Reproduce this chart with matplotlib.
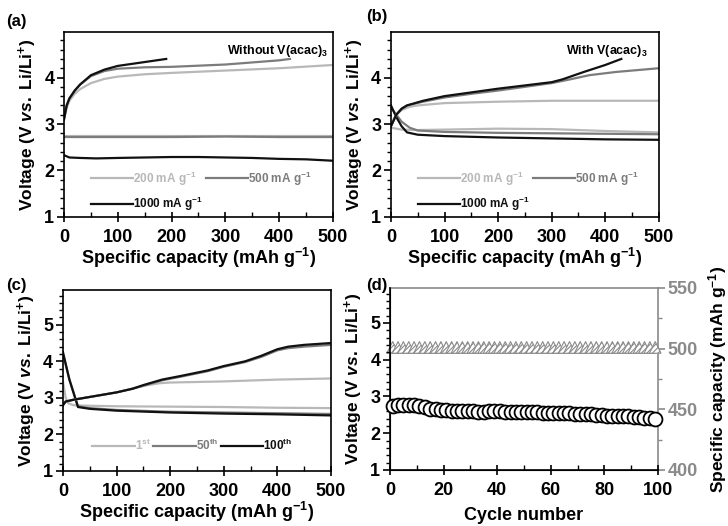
import numpy as np
import matplotlib
matplotlib.use("Agg")
import matplotlib.pyplot as plt
from matplotlib.ticker import MultipleLocator

plt.rcParams['font.family'] = ['Liberation Sans', 'DejaVu Sans']
plt.rcParams['font.weight'] = 'bold'
plt.rcParams['mathtext.fontset'] = 'custom'
plt.rcParams['mathtext.rm'] = 'Liberation Sans:bold'
plt.rcParams['mathtext.bf'] = 'Liberation Sans:bold'
plt.rcParams['mathtext.it'] = 'Liberation Sans:bold:italic'
plt.rcParams['mathtext.default'] = 'rm'
plt.rcParams['hatch.color'] = '#8a8a8a'
plt.rcParams['hatch.linewidth'] = 0.8

C_LIGHT = '#b8b8b8'
C_MID = '#7c7c7c'
C_DARK = '#111111'

# ---------- Panel (a): without V(acac)3 ----------
a_200_chg_x = [0, 5, 10, 20, 30, 50, 75, 100, 150, 200, 300, 400, 500]
a_200_chg_y = [3.1, 3.35, 3.5, 3.65, 3.75, 3.88, 3.97, 4.02, 4.07, 4.1, 4.15, 4.2, 4.27]
a_200_dis_x = [0, 100, 200, 300, 400, 500]
a_200_dis_y = [2.74, 2.74, 2.74, 2.74, 2.74, 2.74]
a_500_chg_x = [0, 5, 10, 20, 30, 50, 75, 100, 150, 200, 300, 400, 420]
a_500_chg_y = [3.1, 3.4, 3.55, 3.72, 3.85, 4.03, 4.14, 4.19, 4.22, 4.23, 4.28, 4.37, 4.4]
a_500_dis_x = [0, 100, 200, 300, 400, 500]
a_500_dis_y = [2.72, 2.72, 2.72, 2.73, 2.72, 2.72]
a_1000_chg_x = [0, 5, 10, 20, 30, 50, 75, 100, 130, 160, 190]
a_1000_chg_y = [3.1, 3.4, 3.55, 3.72, 3.85, 4.05, 4.17, 4.25, 4.3, 4.35, 4.4]
a_1000_dis_x = [0, 10, 30, 60, 100, 150, 200, 250, 300, 350, 400, 450, 500]
a_1000_dis_y = [2.33, 2.28, 2.27, 2.26, 2.27, 2.28, 2.29, 2.29, 2.28, 2.27, 2.25, 2.24, 2.21]

# ---------- Panel (b): with V(acac)3 ----------
b_200_chg_x = [0, 10, 20, 35, 50, 100, 200, 300, 400, 500]
b_200_chg_y = [3.0, 3.2, 3.3, 3.37, 3.4, 3.45, 3.48, 3.5, 3.5, 3.5]
b_200_dis_x = [0, 20, 50, 100, 200, 300, 400, 500]
b_200_dis_y = [2.92, 2.88, 2.87, 2.88, 2.9, 2.89, 2.85, 2.82]
b_500_chg_x = [0, 10, 20, 30, 60, 100, 150, 200, 250, 300, 330, 370, 420, 470, 500]
b_500_chg_y = [2.95, 3.2, 3.33, 3.4, 3.48, 3.57, 3.65, 3.72, 3.8, 3.88, 3.95, 4.05, 4.12, 4.17, 4.2]
b_500_dis_x = [0, 10, 20, 35, 50, 100, 200, 300, 400, 500]
b_500_dis_y = [3.35, 3.2, 3.05, 2.92, 2.86, 2.83, 2.81, 2.8, 2.79, 2.78]
b_1000_chg_x = [0, 10, 20, 30, 60, 100, 150, 200, 250, 300, 320, 360, 400, 430]
b_1000_chg_y = [2.95, 3.2, 3.33, 3.4, 3.5, 3.6, 3.68, 3.76, 3.83, 3.9, 3.96, 4.12, 4.27, 4.4]
b_1000_dis_x = [0, 10, 20, 30, 50, 100, 200, 300, 400, 500]
b_1000_dis_y = [3.4, 3.15, 2.95, 2.82, 2.77, 2.74, 2.71, 2.69, 2.67, 2.66]

# ---------- Panel (c): cycles ----------
c_1_chg_x = [0, 5, 20, 60, 100, 150, 180, 200, 300, 400, 500]
c_1_chg_y = [2.8, 2.9, 2.95, 3.05, 3.15, 3.33, 3.4, 3.42, 3.45, 3.5, 3.53]
c_1_dis_x = [0, 5, 10, 20, 30, 100, 200, 300, 400, 500]
c_1_dis_y = [3.45, 3.0, 2.85, 2.8, 2.79, 2.77, 2.76, 2.75, 2.73, 2.72]
c_50_chg_x = [0, 5, 20, 60, 100, 130, 150, 185, 220, 270, 300, 340, 370, 400, 420, 450, 500]
c_50_chg_y = [2.8, 2.9, 2.95, 3.05, 3.15, 3.25, 3.33, 3.48, 3.58, 3.73, 3.85, 3.98, 4.12, 4.3, 4.36, 4.4, 4.45]
c_50_dis_x = [0, 12, 28, 50, 100, 200, 300, 400, 500]
c_50_dis_y = [4.2, 3.5, 2.77, 2.72, 2.67, 2.62, 2.6, 2.58, 2.56]
c_100_chg_x = [0, 5, 20, 60, 100, 130, 150, 185, 220, 270, 300, 340, 370, 400, 420, 450, 500]
c_100_chg_y = [2.8, 2.9, 2.95, 3.05, 3.15, 3.25, 3.35, 3.5, 3.6, 3.75, 3.87, 4.0, 4.15, 4.33, 4.4, 4.45, 4.5]
c_100_dis_x = [0, 12, 28, 50, 100, 200, 300, 400, 500]
c_100_dis_y = [4.25, 3.5, 2.75, 2.7, 2.65, 2.6, 2.57, 2.55, 2.52]

# ---------- Panel (d): cycling ----------
d_cycles = [1, 3, 5, 7, 9, 11, 13, 15, 17, 19, 21, 23, 25, 27, 29, 31, 33, 35, 37, 39,
            41, 43, 45, 47, 49, 51, 53, 55, 57, 59, 61, 63, 65, 67, 69, 71, 73, 75, 77, 79,
            81, 83, 85, 87, 89, 91, 93, 95, 97, 99]
d_voltage = [2.75, 2.77, 2.78, 2.78, 2.77, 2.74, 2.7, 2.67, 2.65, 2.64, 2.62, 2.61, 2.61, 2.6, 2.6, 2.6, 2.59, 2.59, 2.6, 2.6,
             2.6, 2.59, 2.59, 2.58, 2.58, 2.58, 2.57, 2.57, 2.56, 2.56, 2.55, 2.55, 2.54, 2.54, 2.53, 2.52, 2.52, 2.51, 2.5, 2.49,
             2.48, 2.48, 2.47, 2.47, 2.46, 2.45, 2.44, 2.42, 2.41, 2.4]
d_capacity = [501, 501, 501, 501, 501, 501, 501, 501, 501, 501, 501, 501, 501, 501, 501, 501, 501, 501, 501, 501,
              501, 501, 501, 501, 501, 501, 501, 501, 501, 501, 501, 501, 501, 501, 501, 501, 501, 501, 501, 501,
              501, 501, 501, 501, 501, 501, 501, 501, 501, 501]

VLABEL = r'Voltage (V $\mathit{vs.}$ Li/Li$^{+}$)'
XLABEL = r'Specific capacity (mAh g$^{-1}$)'

fig = plt.figure(figsize=(7.28, 5.26), dpi=100)

def style_axis(ax, xmax, xmajor, xminor, ymax):
    ax.set_ylim(1, ymax)
    ax.set_xlim(0, xmax)
    ax.xaxis.set_major_locator(MultipleLocator(xmajor))
    ax.xaxis.set_minor_locator(MultipleLocator(xminor))
    ax.yaxis.set_major_locator(MultipleLocator(1))
    ax.yaxis.set_minor_locator(MultipleLocator(0.2))
    ax.tick_params(axis='x', which='major', direction='inout', length=7, width=1.2, labelsize=13, pad=5)
    ax.tick_params(axis='x', which='minor', direction='in', length=3.5, width=1.0)
    ax.tick_params(axis='y', which='major', direction='out', length=5, width=1.2, labelsize=13, pad=2)
    ax.tick_params(axis='y', which='minor', direction='out', length=3, width=1.0)
    for s in ax.spines.values():
        s.set_linewidth(1.2)
    for lab in ax.get_xticklabels() + ax.get_yticklabels():
        lab.set_fontweight('bold')

LW = 1.6
LEG = dict(frameon=False, prop={'size': 8.5, 'weight': 'bold'}, labelcolor='linecolor',
           handlelength=3.6, handletextpad=0.0, columnspacing=0.2)

# (a)
axa = fig.add_axes([0.0879, 0.5875, 0.3695, 0.3517])
axa.plot(a_200_dis_x, a_200_dis_y, color=C_LIGHT, lw=LW)
axa.plot(a_500_dis_x, a_500_dis_y, color=C_MID, lw=LW)
axa.plot(a_1000_dis_x, a_1000_dis_y, color=C_DARK, lw=LW)
h200, = axa.plot(a_200_chg_x, a_200_chg_y, color=C_LIGHT, lw=LW, label=r'200 mA g$^{-1}$')
h500, = axa.plot(a_500_chg_x, a_500_chg_y, color=C_MID, lw=LW, label=r'500 mA g$^{-1}$')
h1000, = axa.plot(a_1000_chg_x, a_1000_chg_y, color=C_DARK, lw=LW, label=r'1000 mA g$^{-1}$')
style_axis(axa, 500, 100, 50, 4.98)
axa.set_xlabel(XLABEL, fontsize=13, fontweight='bold', labelpad=0)
axa.set_ylabel(VLABEL, fontsize=12.5, fontweight='bold', labelpad=4)
axa.text(0.98, 0.94, r'Without V(acac)$_3$', transform=axa.transAxes, ha='right', va='top',
         fontsize=9, fontweight='bold')
axa.legend([h200, h1000, h500], [h200.get_label(), h1000.get_label(), h500.get_label()],
           ncol=2, loc='lower left', bbox_to_anchor=(0.06, -0.035), labelspacing=0.6, **LEG)
fig.text(0.008, 0.96, '(a)', fontsize=12, fontweight='bold', ha='left', va='center')

# (b)
axb = fig.add_axes([0.537, 0.5875, 0.368, 0.3517])
axb.plot(b_200_dis_x, b_200_dis_y, color=C_LIGHT, lw=LW)
axb.plot(b_500_dis_x, b_500_dis_y, color=C_MID, lw=LW)
axb.plot(b_1000_dis_x, b_1000_dis_y, color=C_DARK, lw=LW)
g200, = axb.plot(b_200_chg_x, b_200_chg_y, color=C_LIGHT, lw=LW, label=r'200 mA g$^{-1}$')
g500, = axb.plot(b_500_chg_x, b_500_chg_y, color=C_MID, lw=LW, label=r'500 mA g$^{-1}$')
g1000, = axb.plot(b_1000_chg_x, b_1000_chg_y, color=C_DARK, lw=LW, label=r'1000 mA g$^{-1}$')
style_axis(axb, 500, 100, 50, 4.98)
axb.set_xlabel(XLABEL, fontsize=13, fontweight='bold', labelpad=0)
axb.set_ylabel(VLABEL, fontsize=12.5, fontweight='bold', labelpad=4)
axb.text(0.96, 0.94, r'With V(acac)$_3$', transform=axb.transAxes, ha='right', va='top',
         fontsize=9, fontweight='bold')
axb.legend([g200, g1000, g500], [g200.get_label(), g1000.get_label(), g500.get_label()],
           ncol=2, loc='lower left', bbox_to_anchor=(0.06, -0.035), labelspacing=0.6, **LEG)
fig.text(0.503, 0.968, '(b)', fontsize=12, fontweight='bold', ha='left', va='center')

# (c)
axc = fig.add_axes([0.0865, 0.1046, 0.368, 0.344])
axc.plot(c_1_dis_x, c_1_dis_y, color=C_LIGHT, lw=LW)
axc.plot(c_50_dis_x, c_50_dis_y, color=C_MID, lw=LW)
axc.plot(c_100_dis_x, c_100_dis_y, color=C_DARK, lw=LW)
k1, = axc.plot(c_1_chg_x, c_1_chg_y, color=C_LIGHT, lw=LW, label=r'1$^{st}$')
k50, = axc.plot(c_50_chg_x, c_50_chg_y, color=C_MID, lw=LW, label=r'50$^{th}$')
k100, = axc.plot(c_100_chg_x, c_100_chg_y, color=C_DARK, lw=LW, label=r'100$^{th}$')
style_axis(axc, 500, 100, 50, 5.95)
axc.set_xlabel(XLABEL, fontsize=13, fontweight='bold', labelpad=0)
axc.set_ylabel(VLABEL, fontsize=12.5, fontweight='bold', labelpad=4)
axc.legend(handles=[k1, k50, k100], ncol=3, loc='lower left', bbox_to_anchor=(0.07, 0.04), **LEG)
fig.text(0.008, 0.458, '(c)', fontsize=12, fontweight='bold', ha='left', va='center')

# (d)
axd = fig.add_axes([0.5357, 0.1065, 0.368, 0.346])
axd2 = axd.twinx()
axd2.scatter(d_cycles, d_capacity, marker='^', s=70, facecolor='white',
             edgecolor='#8a8a8a', linewidth=0.8, hatch='//////', zorder=3, clip_on=False)
axd.plot(d_cycles, d_voltage, linestyle='none', marker='o', markersize=10,
         markerfacecolor='white', markeredgecolor='black', markeredgewidth=1.3, zorder=3,
         clip_on=False)
axd.set_zorder(axd2.get_zorder() + 1)
axd.patch.set_visible(False)
style_axis(axd, 100, 20, 10, 5.95)
axd.set_xlabel('Cycle number', fontsize=13, fontweight='bold', labelpad=6)
axd.set_ylabel(VLABEL, fontsize=12.5, fontweight='bold', labelpad=4)
axd2.set_ylim(400, 550)
axd2.yaxis.set_major_locator(MultipleLocator(50))
axd2.yaxis.set_minor_locator(MultipleLocator(25))
axd2.tick_params(axis='y', which='major', direction='out', length=5, width=1.2, labelsize=13,
                 colors='#8a8a8a', pad=2)
axd2.tick_params(axis='y', which='minor', direction='out', length=3, width=1.0, colors='#8a8a8a')
for lab in axd2.get_yticklabels():
    lab.set_fontweight('bold')
axd2.spines['right'].set_color('#8a8a8a')
axd2.spines['right'].set_linewidth(1.2)
axd2.spines['top'].set_color('#8a8a8a')
axd2.spines['top'].set_linewidth(1.2)
axd.spines['top'].set_visible(False)
axd.spines['right'].set_visible(False)
axd2.set_ylabel(r'Specific capacity (mAh g$^{-1}$)', fontsize=12.5, fontweight='bold', labelpad=6)
fig.text(0.503, 0.458, '(d)', fontsize=12, fontweight='bold', ha='left', va='center')

fig.savefig('out.png', dpi=100)
